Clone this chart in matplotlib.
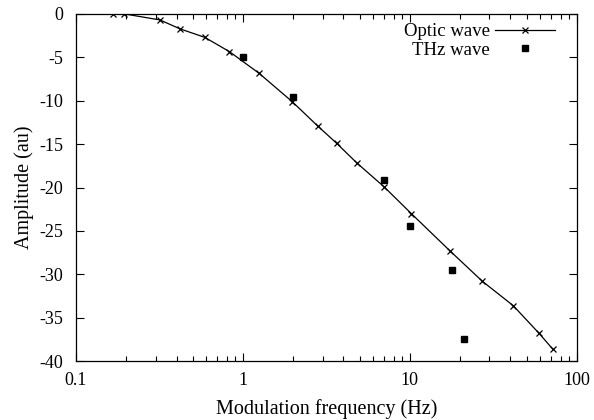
import matplotlib
matplotlib.use('Agg')
import matplotlib.pyplot as plt
from matplotlib.ticker import LogLocator, NullFormatter

plt.rcParams['font.family'] = ['Liberation Serif', 'DejaVu Serif']
plt.rcParams['axes.unicode_minus'] = False

# Optic wave (line + x markers)
optic_freq = [0.167, 0.194, 0.318, 0.42, 0.59, 0.83, 1.25, 1.97, 2.80, 3.64,
              4.80, 6.99, 10.2, 17.4, 27.2, 41.6, 59.5, 72.1]
optic_amp = [0.0, 0.0, -0.7, -1.73, -2.7, -4.35, -6.85, -10.1, -12.9, -14.9,
             -17.15, -19.9, -23.0, -27.3, -30.8, -33.6, -36.8, -38.65]

# THz wave (squares)
thz_freq = [1.0, 2.0, 7.0, 10.0, 18.0, 21.0]
thz_amp = [-5.0, -9.6, -19.1, -24.45, -29.5, -37.5]

fig = plt.figure(figsize=(5.94, 4.2), dpi=100)
ax = fig.add_axes([0.128, 0.140, 0.843, 0.827])

ax.plot(optic_freq, optic_amp, color='black', lw=0.9, marker='x',
        markersize=5, markeredgewidth=0.9, label='Optic wave')
ax.plot(thz_freq, thz_amp, color='black', lw=0, marker='s',
        markersize=4.5, label='THz wave')

ax.set_xscale('log')
ax.set_xlim(0.1, 100)
ax.set_ylim(-40, 0)
ax.set_xticks([0.1, 1, 10, 100])
ax.set_xticklabels(['0.1', '1', '10', '100'])
ax.xaxis.set_minor_locator(LogLocator(base=10, subs=range(2, 10)))
ax.xaxis.set_minor_formatter(NullFormatter())
ax.set_yticks(range(-40, 1, 5))

ax.tick_params(which='both', direction='in', top=True, right=True,
               labelsize=13, width=0.8)
ax.tick_params(axis='y', pad=9)
ax.tick_params(axis='x', pad=8)
ax.tick_params(which='major', length=6)
ax.tick_params(which='minor', length=3.5)
for s in ax.spines.values():
    s.set_linewidth(0.9)

ax.set_xlabel('Modulation frequency (Hz)', fontsize=14.5, labelpad=7)
ax.set_ylabel('Amplitude (au)', fontsize=14.5, labelpad=4)

ax.legend(loc='upper right', bbox_to_anchor=(0.976, 1.0), frameon=False,
          markerfirst=False, fontsize=13.5, handlelength=3.2,
          labelspacing=0.07, borderaxespad=0.0, borderpad=0.5,
          handletextpad=0.3)

fig.savefig('out.png', dpi=100)
